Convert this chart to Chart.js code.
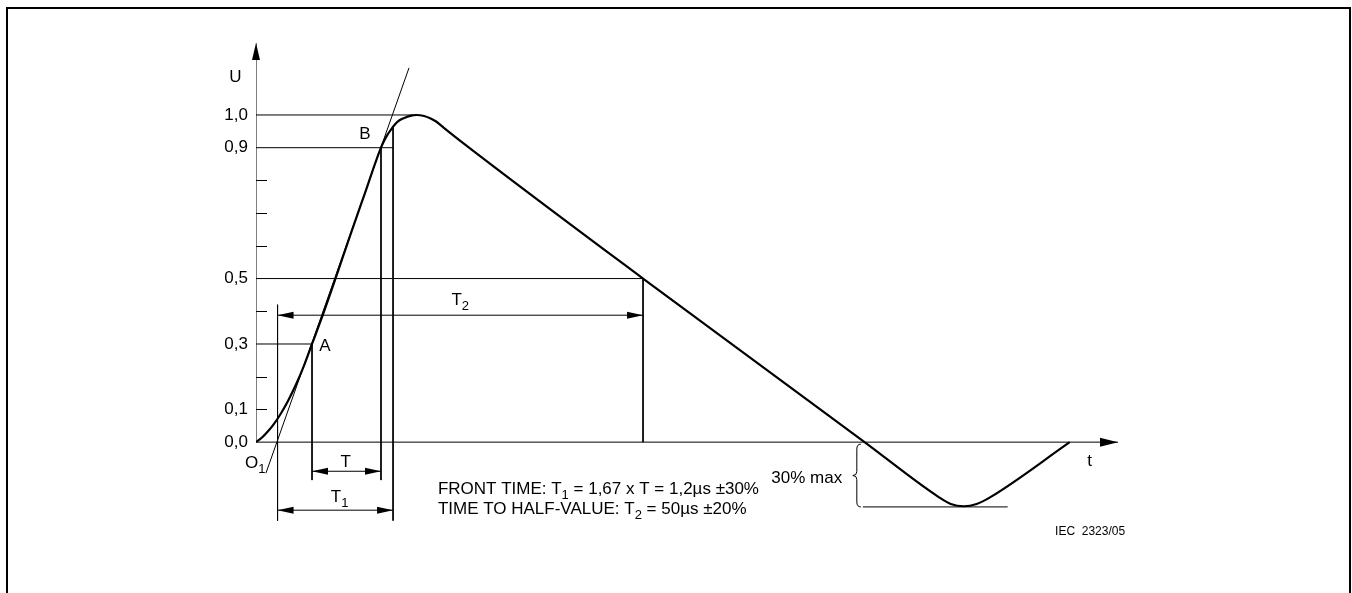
<!DOCTYPE html>
<html>
<head>
<meta charset="utf-8">
<script src="https://cdn.jsdelivr.net/npm/chart.js@4.4.1/dist/chart.umd.min.js"></script>
<style>
  html, body { margin: 0; padding: 0; background: #fff; }
  canvas { display: block; }
</style>
</head>
<body>
<canvas id="surge" width="1352" height="593"></canvas>
<script>
// surge waveform, x in arbitrary units (0..100 = axis length), U relative to peak
const curveX = [0, 0.7, 1.39, 2.09, 2.78, 3.71, 4.64, 5.57, 6.5, 7.7, 9.2, 10.9, 12.6, 14.5, 15.1, 15.7, 16.4, 17.2, 18.0, 18.6, 19.5, 20.2, 20.9, 21.6, 23.7, 44.9, 70.6, 79.2, 80.6, 82.1, 83.6, 85.2, 94.4];
const curveU = [0, 0.014, 0.033, 0.056, 0.083, 0.126, 0.176, 0.234, 0.3, 0.385, 0.498, 0.63, 0.758, 0.9, 0.933, 0.957, 0.979, 0.991, 0.998, 1.0, 0.997, 0.99, 0.98, 0.965, 0.921, 0.5, 0, -0.168, -0.189, -0.196, -0.189, -0.168, 0];

const yTickLabels = [0, 0.1, 0.3, 0.5, 0.9, 1.0];
const yTickMarks = [0.1, 0.2, 0.4, 0.6, 0.7, 0.8];

// horizontal guide lines from the U axis
const levelU = [1.0, 0.9, 0.5, 0.3];
const levelEndX = [18.8, 15.9, 44.9, 6.5];

// vertical guide lines
const dropX = [2.5, 6.5, 14.5, 15.9, 44.9];
const dropTopU = [0.42, 0.3, 0.9, 0.962, 0.5];
const dropBottomU = [-0.24, -0.116, -0.116, -0.24, 0];

// virtual front line through A and B
const tangentX = [1.15, 17.75];
const tangentU = [-0.095, 1.144];

// dimension arrows T2, T, T1
const dimU = [0.388, -0.089, -0.208];
const dimFromX = [2.5, 6.5, 2.5];
const dimToX = [44.9, 14.5, 15.9];

// undershoot (30% max)
const underX = [70.4, 87.2];
const underU = -0.198;
const braceX = 69.7;

const xMax = 100, yMin = -0.4, yMax = 1.22;

const FAMILY = '"Liberation Sans", Arial, sans-serif';
const FS = 17;

const texts = [
  { runs: [['U', 0]], x: -2.4, u: 1.116, align: 'center' },
  { runs: [['B', 0]], x: 12.65, u: 0.942, align: 'center' },
  { runs: [['A', 0]], x: 8.0, u: 0.294, align: 'center' },
  { runs: [['T', 0], ['2', 1]], x: 23.7, u: 0.434, align: 'center' },
  { runs: [['T', 0]], x: 10.4, u: -0.061, align: 'center' },
  { runs: [['T', 0], ['1', 1]], x: 9.7, u: -0.168, align: 'center' },
  { runs: [['O', 0], ['1', 1]], x: -0.1, u: -0.064, align: 'center' },
  { runs: [['t', 0]], x: 96.7, u: -0.058, align: 'center' },
  { runs: [['30% max', 0]], x: 68.0, u: -0.11, align: 'right' },
  { runs: [['FRONT TIME: T', 0], ['1', 1], [' = 1,67 x T = 1,2µs ±30%', 0]], x: 21.1, u: -0.144, align: 'left' },
  { runs: [['TIME TO HALF-VALUE: T', 0], ['2', 1], [' = 50µs ±20%', 0]], x: 21.1, u: -0.205, align: 'left' },
  { runs: [['IEC  2323/05', 0]], x: 92.7, u: -0.275, align: 'left', size: 12 }
];

function line(xs, us, w) {
  return {
    data: xs.map((x, i) => ({ x: x, y: us[i] })),
    borderColor: '#000', borderWidth: w, pointRadius: 0, tension: 0, fill: false
  };
}

const datasets = [];
datasets.push(Object.assign(line(curveX, curveU, 2.2), { cubicInterpolationMode: 'monotone' }));
datasets.push(line([0, xMax], [0, 0], 1));          // t axis
datasets.push(line([0, 0], [0, yMax], 1));          // U axis
levelU.forEach((u, i) => datasets.push(line([0, levelEndX[i]], [u, u], 1)));
dropX.forEach((x, i) => datasets.push(line([x, x], [dropTopU[i], dropBottomU[i]], 1)));
datasets.push(line(tangentX, tangentU, 1));
dimU.forEach((u, i) => datasets.push(line([dimFromX[i], dimToX[i]], [u, u], 1)));
datasets.push(line(underX, [underU, underU], 1));

function arrowHead(ctx, x, y, dx, dy, len, hw) {
  ctx.beginPath();
  ctx.moveTo(x, y);
  ctx.lineTo(x - dx * len - dy * hw, y - dy * len + dx * hw);
  ctx.lineTo(x - dx * len + dy * hw, y - dy * len - dx * hw);
  ctx.closePath();
  ctx.fill();
}

function drawRuns(ctx, runs, x, y, align, size) {
  const sub = Math.round(size * 0.78);
  const widths = runs.map(([t, s]) => {
    ctx.font = `${s ? sub : size}px ${FAMILY}`;
    return ctx.measureText(t).width;
  });
  const total = widths.reduce((a, b) => a + b, 0);
  let cx = align === 'center' ? x - total / 2 : align === 'right' ? x - total : x;
  ctx.textAlign = 'left';
  ctx.textBaseline = 'middle';
  runs.forEach(([t, s], i) => {
    ctx.font = `${s ? sub : size}px ${FAMILY}`;
    ctx.fillText(t, cx, s ? y + size * 0.35 : y);
    cx += widths[i];
  });
}

const drawing = {
  id: 'drawing',
  beforeDraw(chart) {
    const ctx = chart.ctx;
    ctx.save();
    ctx.fillStyle = '#fff';
    ctx.fillRect(0, 0, chart.width, chart.height);
    ctx.strokeStyle = '#000';
    ctx.lineWidth = 2;
    ctx.strokeRect(7, 8, 1343, 700);
    ctx.restore();
  },
  afterDatasetsDraw(chart) {
    const ctx = chart.ctx;
    const xs = chart.scales.x, ys = chart.scales.y;
    const px = v => xs.getPixelForValue(v), py = v => ys.getPixelForValue(v);
    ctx.save();
    ctx.fillStyle = '#000';
    ctx.strokeStyle = '#000';
    ctx.lineWidth = 1;

    // tick marks on the U axis
    yTickMarks.forEach(v => {
      ctx.beginPath();
      ctx.moveTo(px(0), Math.round(py(v)) + 0.5);
      ctx.lineTo(px(0) + 11, Math.round(py(v)) + 0.5);
      ctx.stroke();
    });

    // axis arrows
    arrowHead(ctx, px(0), py(yMax), 0, -1, 17, 4);
    arrowHead(ctx, px(xMax), py(0), 1, 0, 18, 4.5);

    // dimension arrows
    dimU.forEach((u, i) => {
      arrowHead(ctx, px(dimFromX[i]), py(u), -1, 0, 16, 3.5);
      arrowHead(ctx, px(dimToX[i]), py(u), 1, 0, 16, 3.5);
    });

    // brace for the undershoot
    const bx = px(braceX), top = py(0) + 2, bot = py(underU), mid = (top + bot) / 2;
    ctx.beginPath();
    ctx.moveTo(bx + 4, top);
    ctx.quadraticCurveTo(bx, top, bx, top + 5);
    ctx.lineTo(bx, mid - 4);
    ctx.quadraticCurveTo(bx, mid, bx - 4, mid);
    ctx.quadraticCurveTo(bx, mid, bx, mid + 4);
    ctx.lineTo(bx, bot - 5);
    ctx.quadraticCurveTo(bx, bot, bx + 4, bot);
    ctx.stroke();

    texts.forEach(t => drawRuns(ctx, t.runs, px(t.x), py(t.u), t.align, t.size || FS));
    ctx.restore();
  }
};

new Chart(document.getElementById('surge'), {
  type: 'line',
  data: { datasets: datasets },
  options: {
    responsive: false,
    animation: false,
    devicePixelRatio: 1,
    layout: { padding: { left: 196, right: 234, top: 43, bottom: 20 } },
    plugins: { legend: { display: false }, tooltip: { enabled: false } },
    scales: {
      x: { type: 'linear', display: false, min: 0, max: xMax },
      y: {
        type: 'linear', position: 'left', min: yMin, max: yMax,
        afterFit: s => { s.width = 60; },
        afterBuildTicks: s => { s.ticks = yTickLabels.map(v => ({ value: v })); },
        grid: { display: false, drawTicks: false },
        border: { display: false },
        ticks: {
          autoSkip: false, padding: 8, color: '#000',
          font: { family: FAMILY, size: FS },
          callback: v => v.toFixed(1).replace('.', ',')
        }
      }
    }
  },
  plugins: [drawing]
});
</script>
</body>
</html>
